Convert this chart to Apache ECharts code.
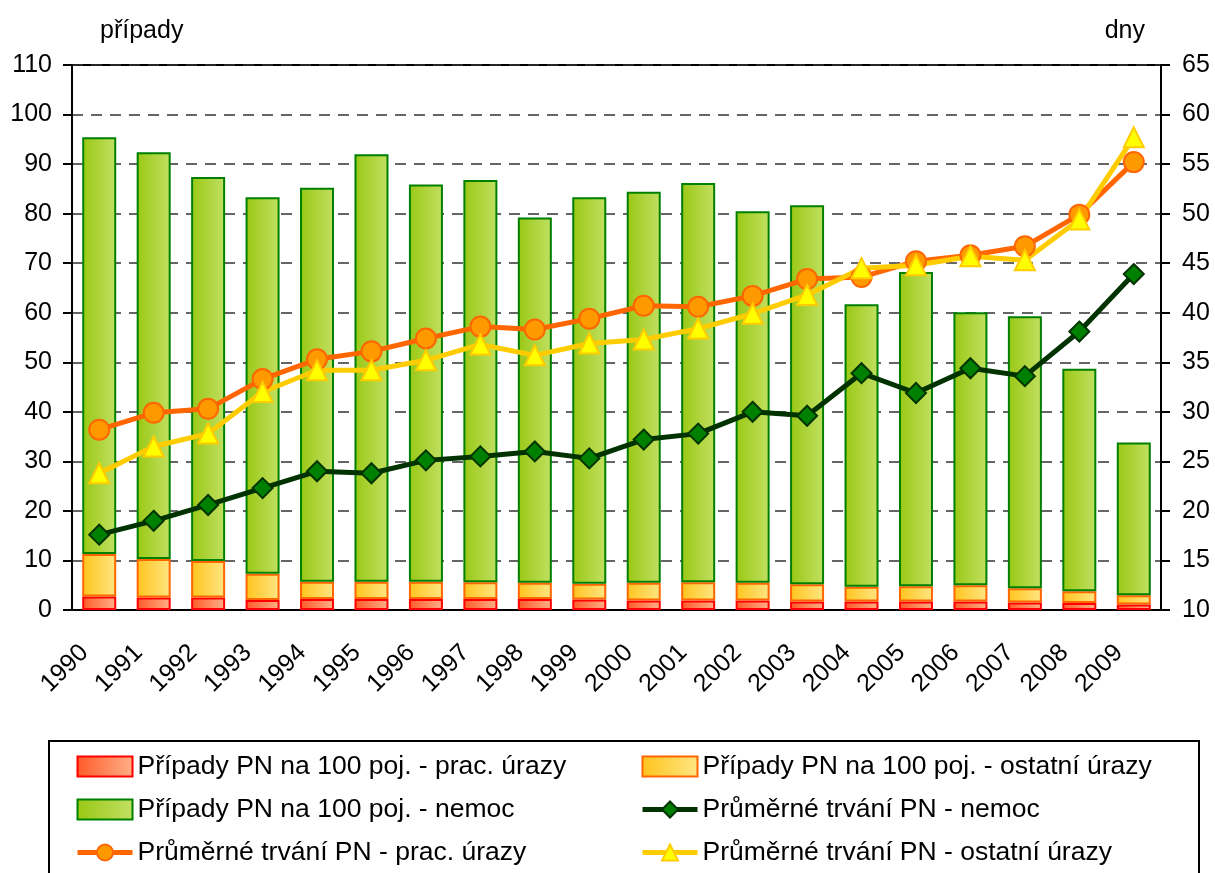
<!DOCTYPE html>
<html>
<head>
<meta charset="utf-8">
<script src="https://cdn.jsdelivr.net/npm/echarts@6/dist/echarts.min.js"></script>
<style>
  html, body { margin: 0; padding: 0; background: #fff; }
  #chart { width: 1215px; height: 873px; }
</style>
</head>
<body>
<div id="chart"></div>
<script>
const years = ['1990', '1991', '1992', '1993', '1994', '1995', '1996', '1997', '1998', '1999',
  '2000', '2001', '2002', '2003', '2004', '2005', '2006', '2007', '2008', '2009']

// případy PN na 100 pojištěnců (levá osa)
const casesWork = [2.7, 2.5, 2.5, 2.0, 2.2, 2.2, 2.2, 2.2, 2.2, 2.1, 1.9, 1.9, 1.9, 1.7, 1.7, 1.7, 1.7, 1.5, 1.4, 1.1]
const casesOther = [8.6, 7.8, 7.4, 5.3, 3.5, 3.5, 3.5, 3.4, 3.3, 3.2, 3.6, 3.7, 3.6, 3.5, 3.0, 3.1, 3.3, 2.9, 2.4, 1.9]
const casesIllness = [84.1, 82.1, 77.5, 76.0, 79.5, 86.3, 80.2, 81.2, 73.7, 78.0, 78.9, 80.6, 75.0, 76.5, 57.0, 63.4, 55.1, 54.9, 44.9, 30.8]

// průměrné trvání PN ve dnech (pravá osa)
const daysIllness = [17.6, 19.0, 20.6, 22.3, 24.0, 23.8, 25.1, 25.5, 26.0, 25.3, 27.2, 27.8, 30.0, 29.6, 33.9, 31.9, 34.4, 33.6, 38.1, 43.9]
const daysWork = [28.2, 29.9, 30.3, 33.3, 35.3, 36.1, 37.4, 38.6, 38.3, 39.4, 40.7, 40.6, 41.7, 43.4, 43.6, 45.2, 45.8, 46.7, 49.9, 55.2]
const daysOther = [23.8, 26.5, 27.8, 32.0, 34.2, 34.2, 35.2, 36.8, 35.7, 36.9, 37.3, 38.4, 39.9, 41.8, 44.5, 44.8, 45.7, 45.3, 49.4, 57.7]

const names = [
  'Případy PN na 100 poj. - prac. úrazy',
  'Případy PN na 100 poj. - ostatní úrazy',
  'Případy PN na 100 poj. - nemoc',
  'Průměrné trvání PN - nemoc',
  'Průměrné trvání PN - prac. úrazy',
  'Průměrné trvání PN - ostatní úrazy',
]

const FONT = "'Liberation Sans', Arial, sans-serif"

function hGrad(c1, c2) {
  return new echarts.graphic.LinearGradient(0, 0, 1, 0, [
    { offset: 0, color: c1 },
    { offset: 1, color: c2 },
  ])
}

const chart = echarts.init(document.getElementById('chart'))

const legendBase = {
  orient: 'vertical',
  top: 753,
  height: 130,
  padding: 0,
  itemWidth: 55,
  itemHeight: 20,
  itemGap: 16,
  lineStyle: { width: 5 },
  textStyle: { fontFamily: FONT, fontSize: 26.5, lineHeight: 27, color: '#000' },
  selectedMode: false,
}

chart.setOption({
  animation: false,
  textStyle: { fontFamily: FONT },
  grid: { left: 72, right: 54, top: 65, bottom: 263, show: true, borderColor: '#000', borderWidth: 2 },
  legend: [
    {
      ...legendBase,
      left: 75,
      data: [
        { name: names[0], icon: 'rect' },
        { name: names[2], icon: 'rect' },
        { name: names[4] },
      ],
    },
    {
      ...legendBase,
      left: 640,
      data: [
        { name: names[1], icon: 'rect' },
        { name: names[3] },
        { name: names[5] },
      ],
    },
  ],
  graphic: [
    {
      type: 'rect',
      shape: { x: 49, y: 741, width: 1150, height: 150 },
      style: { fill: 'none', stroke: '#000', lineWidth: 2 },
      silent: true,
    },
  ],
  xAxis: {
    type: 'category',
    data: years,
    axisLine: { lineStyle: { color: '#000', width: 2 } },
    axisTick: { length: 8, lineStyle: { color: '#000', width: 2 } },
    axisLabel: { rotate: 45, fontSize: 25, color: '#000', margin: 24, padding: [0, 21, 0, 0], fontFamily: FONT },
  },
  yAxis: [
    {
      type: 'value',
      min: 0,
      max: 110,
      interval: 10,
      name: 'případy',
      nameLocation: 'end',
      nameGap: 21,
      nameTextStyle: { fontSize: 25, color: '#000', align: 'left', padding: [0, 0, 0, 28], fontFamily: FONT },
      axisLine: { show: true, lineStyle: { color: '#000', width: 2 } },
      axisTick: { show: true, length: 9, lineStyle: { color: '#000', width: 2 } },
      axisLabel: { fontSize: 25, color: '#000', margin: 20, fontFamily: FONT },
      splitLine: { show: true, lineStyle: { color: '#333', width: 1.5, type: [11, 8] } },
    },
    {
      type: 'value',
      min: 10,
      max: 65,
      interval: 5,
      name: 'dny',
      nameLocation: 'end',
      nameGap: 21,
      nameTextStyle: { fontSize: 25, color: '#000', align: 'right', padding: [0, 16, 0, 0], fontFamily: FONT },
      axisLine: { show: true, lineStyle: { color: '#000', width: 2 } },
      axisTick: { show: true, length: 9, lineStyle: { color: '#000', width: 2 } },
      axisLabel: { fontSize: 25, color: '#000', margin: 21, fontFamily: FONT },
      splitLine: { show: false },
    },
  ],
  series: [
    {
      name: names[0],
      type: 'bar',
      stack: 'cases',
      barWidth: 34,
      data: casesWork,
      itemStyle: { color: hGrad('#ff5a28', '#ffb088'), borderColor: '#ff0000', borderWidth: 2 },
    },
    {
      name: names[1],
      type: 'bar',
      stack: 'cases',
      data: casesOther,
      itemStyle: { color: hGrad('#ffc41c', '#ffe684'), borderColor: '#ff6600', borderWidth: 2 },
    },
    {
      name: names[2],
      type: 'bar',
      stack: 'cases',
      data: casesIllness,
      itemStyle: { color: hGrad('#99c814', '#c2e062'), borderColor: '#008000', borderWidth: 2 },
    },
    {
      name: names[3],
      type: 'line',
      yAxisIndex: 1,
      data: daysIllness,
      symbol: 'diamond',
      symbolSize: 20,
      lineStyle: { color: '#003300', width: 5 },
      itemStyle: { color: '#008000', borderColor: '#003300', borderWidth: 2 },
    },
    {
      name: names[4],
      type: 'line',
      yAxisIndex: 1,
      data: daysWork,
      symbol: 'circle',
      symbolSize: 20,
      lineStyle: { color: '#ff6600', width: 5 },
      itemStyle: { color: '#ff9900', borderColor: '#ff6600', borderWidth: 2 },
    },
    {
      name: names[5],
      type: 'line',
      yAxisIndex: 1,
      data: daysOther,
      symbol: 'triangle',
      symbolSize: 20,
      lineStyle: { color: '#ffcc00', width: 5 },
      itemStyle: { color: '#ffff00', borderColor: '#ffcc00', borderWidth: 2 },
    },
  ],
})
</script>
</body>
</html>
